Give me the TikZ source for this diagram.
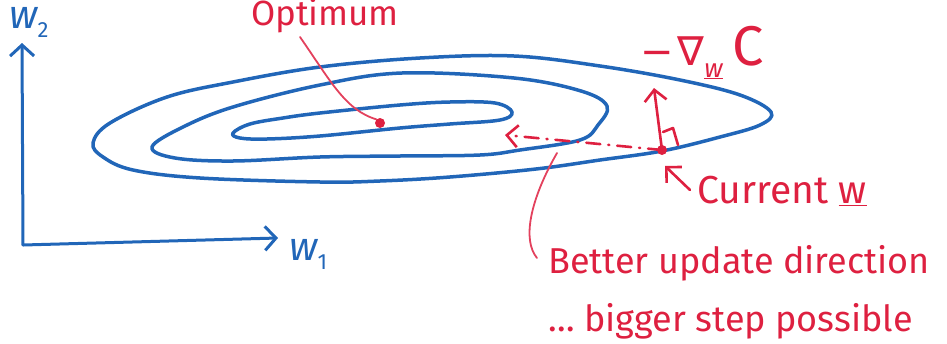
\documentclass[tikz,border=0pt]{standalone}
\usepackage{fontspec}
\setmainfont{Fira Sans}
\newfontfamily\symfont{DejaVu Sans}
\usetikzlibrary{arrows.meta}
\definecolor{pen}{RGB}{33,102,184}
\definecolor{ink}{RGB}{222,32,64}
\begin{document}
\begin{tikzpicture}[x=1pt,y=-1pt,
  contour/.style={draw=pen,line width=3.5pt,line join=round},
  axis/.style={draw=pen,line width=3pt,line cap=round,line join=round,
    -{Straight Barb[length=11pt,width=24pt,line width=3pt]}},
  redline/.style={draw=ink,line width=2.6pt,line cap=round,line join=round},
  redarrow/.style={redline,-{Straight Barb[length=11pt,width=22pt,line width=2.6pt]}},
  leader/.style={draw=ink!85,line width=1.8pt,line cap=round},
  reddot/.style={circle,fill=ink,minimum size=10pt,inner sep=0pt},
  redlab/.style={text=ink,inner sep=0pt},
  bluelab/.style={text=pen,inner sep=0pt,font=\fontsize{40}{40}\selectfont\itshape}
]
\useasboundingbox (0,0) rectangle (947,343);

% axes
\coordinate (origin) at (23,245);
\coordinate (ytip) at (22,43);
\coordinate (xtip) at (278,238);
\draw[axis] (origin) -- (ytip);
\draw[axis] (origin) -- (xtip);
\node[bluelab,anchor=base west] (w2lab) at (9,28)
  {w\raisebox{-9pt}{\fontsize{22}{22}\selectfont\upshape 2}};
\node[bluelab,anchor=base west] (w1lab) at (289,260)
  {w\raisebox{-9pt}{\fontsize{22}{22}\selectfont\upshape 1}};

% contours
\draw[contour] plot[smooth cycle,tension=0.6] coordinates {
 (93,143) (110,123) (167,97) (233,82) (320,67) (420,58) (514,56) (600,66)
 (680,80) (740,95) (771,112) (760,125) (720,137) (662,151) (600,160)
 (536,169) (450,177) (380,181) (320,182) (200,178) (133,170) (103,157)};
\draw[contour] plot[smooth cycle,tension=0.6] coordinates {
 (152,147) (183,127) (233,107) (320,85) (402,73) (514,78) (581,91)
 (607,106) (598,125) (580,140) (520,150) (480,155) (400,156) (320,157)
 (233,161) (175,158)};
\draw[contour] plot[smooth cycle,tension=0.6] coordinates {
 (233,133) (250,124) (283,118) (320,113) (400,105) (450,102) (495,103)
 (512,112) (500,120) (450,124) (400,128) (320,136) (267,139) (240,138)};

% optimum
\node[reddot] (opt) at (380,123) {};
\node[redlab,font=\fontsize{35}{35}\selectfont,anchor=base] (optlab) at (325,25) {Optimum};
\coordinate (optstart) at (300,37);
\draw[leader] (optstart) .. controls (330,80) and (345,110) .. (opt.north west);

% current w and gradient
\node[reddot] (cur) at (662,150) {};
\coordinate (gtip) at (654,88);
\draw[redarrow] (cur.center) -- (gtip);
\draw[redline] (663,132) -- (673,128) -- (678,145);
\node[redlab,anchor=base west] (gradlab) at (640,65)
  {{\symfont\fontsize{40}{40}\selectfont −\hspace{4pt}∇}\raisebox{-12pt}{\fontsize{26}{26}\selectfont\itshape\underline{w}}\hspace{10pt}{\fontsize{56}{56}\selectfont C}};

% better direction (dash-dot)
\coordinate (better) at (505,135);
\draw[redarrow,dash pattern=on 14pt off 8pt on 1pt off 8pt] (cur.center) -- (better);

% current label
\node[redlab,font=\fontsize{39}{39}\selectfont,anchor=west] (curlab) at (697,191)
  {Current \underline{w}};
\coordinate (curarrstart) at (690,190);
\draw[redarrow] (curarrstart) -- (665,166);

% better label
\node[redlab,font=\fontsize{36}{36}\selectfont,anchor=north west,align=left] (betterlab) at (548,245)
  {Better update direction\\[22pt]\ldots\ bigger step possible};
\coordinate (betstart) at (557,153);
\draw[leader] (betstart) .. controls (530,200) and (522,240) .. (537,258);
\end{tikzpicture}
\end{document}
